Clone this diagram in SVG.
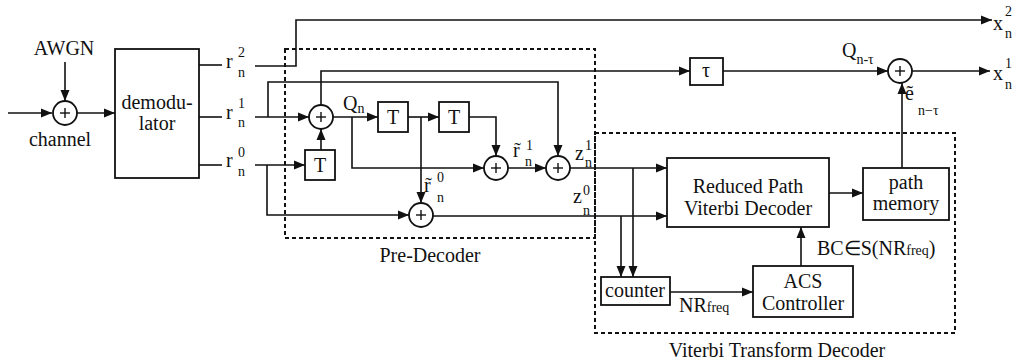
<svg xmlns="http://www.w3.org/2000/svg" width="1022" height="363" viewBox="0 0 1022 363">
<style>
text{font-family:"Liberation Serif","Times New Roman",serif;fill:#111;}
.t{font-size:20px;}
.s{font-size:14px;}
.m{text-anchor:middle;}
.box{fill:#fff;stroke:#111;stroke-width:1.8;}
.sum{fill:#fff;stroke:#111;stroke-width:1.8;}
.ln{fill:none;stroke:#111;stroke-width:1.6;}
.dash{fill:none;stroke:#111;stroke-width:2;stroke-dasharray:4 3;}
.plus{stroke:#111;stroke-width:1.4;}
</style>
<defs>
<marker id="ar" markerUnits="userSpaceOnUse" markerWidth="12" markerHeight="10" refX="11" refY="5" orient="auto">
<path d="M0,0.5 L11,5 L0,9.5 Z" fill="#111"/>
</marker>
<g id="plus"><line class="plus" x1="-5" y1="0" x2="5" y2="0"/><line class="plus" x1="0" y1="-5" x2="0" y2="5"/></g>
</defs>
<rect width="1022" height="363" fill="#fff"/>

<g id="boundaries">
<rect class="dash" x="285" y="49" width="310" height="189"/>
<path class="dash" d="M595,133 H955 V333 H595 Z"/>
<text class="t m" x="430" y="262">Pre-Decoder</text>
<text class="t m" x="777" y="357">Viterbi Transform Decoder</text>
</g>

<g id="connectors">
<line class="ln" x1="8" y1="113" x2="52" y2="113" marker-end="url(#ar)"/>
<line class="ln" x1="65" y1="62" x2="65" y2="101" marker-end="url(#ar)"/>
<line class="ln" x1="77" y1="113" x2="115" y2="113" marker-end="url(#ar)"/>
<line class="ln" x1="199" y1="65" x2="222" y2="65"/>
<line class="ln" x1="199" y1="117" x2="222" y2="117"/>
<line class="ln" x1="199" y1="165" x2="222" y2="165"/>
<path class="ln" d="M255,66 H296 V20 H992" marker-end="url(#ar)"/>
<line class="ln" x1="255" y1="117" x2="309" y2="117" marker-end="url(#ar)"/>
<path class="ln" d="M268,117 V82 H558 V156" marker-end="url(#ar)"/>
<line class="ln" x1="255" y1="165" x2="305" y2="165" marker-end="url(#ar)"/>
<path class="ln" d="M267,165 V215 H409" marker-end="url(#ar)"/>
<line class="ln" x1="321" y1="150" x2="321" y2="129" marker-end="url(#ar)"/>
<path class="ln" d="M321,105 V71 H690" marker-end="url(#ar)"/>
<line class="ln" x1="723" y1="71" x2="888" y2="71" marker-end="url(#ar)"/>
<line class="ln" x1="912" y1="71" x2="990" y2="71" marker-end="url(#ar)"/>
<line class="ln" x1="333" y1="117" x2="378" y2="117" marker-end="url(#ar)"/>
<path class="ln" d="M352,117 V168 H484" marker-end="url(#ar)"/>
<line class="ln" x1="408" y1="117" x2="439" y2="117" marker-end="url(#ar)"/>
<line class="ln" x1="421" y1="117" x2="421" y2="203" marker-end="url(#ar)"/>
<path class="ln" d="M468,117 H496 V156" marker-end="url(#ar)"/>
<line class="ln" x1="508" y1="168" x2="546" y2="168" marker-end="url(#ar)"/>
<line class="ln" x1="570" y1="168" x2="667" y2="168" marker-end="url(#ar)"/>
<line class="ln" x1="433" y1="216" x2="667" y2="216" marker-end="url(#ar)"/>
<line class="ln" x1="633" y1="168" x2="633" y2="277" marker-end="url(#ar)"/>
<line class="ln" x1="621" y1="216" x2="621" y2="277" marker-end="url(#ar)"/>
<line class="ln" x1="670" y1="292" x2="753" y2="292" marker-end="url(#ar)"/>
<line class="ln" x1="801" y1="266" x2="801" y2="227" marker-end="url(#ar)"/>
<line class="ln" x1="829" y1="193" x2="863" y2="193" marker-end="url(#ar)"/>
<line class="ln" x1="902" y1="168" x2="902" y2="83" marker-end="url(#ar)"/>
</g>

<g id="channel">
<circle class="sum" cx="65" cy="113" r="12"/><use href="#plus" x="65" y="113"/>
<text class="t m" x="64" y="55">AWGN</text>
<text class="t m" x="60" y="146">channel</text>
</g>

<g id="demodulator">
<rect class="box" x="115" y="49" width="84" height="129"/>
<text class="t m" x="157" y="109">demodu-</text>
<text class="t m" x="157" y="130">lator</text>
</g>

<g id="signal-labels">
<text class="t" x="226" y="68">r</text><text class="s" x="238" y="57">2</text><text class="s" x="238" y="77">n</text>
<text class="t" x="226" y="119">r</text><text class="s" x="238" y="108">1</text><text class="s" x="238" y="127">n</text>
<text class="t" x="226" y="167">r</text><text class="s" x="238" y="157">0</text><text class="s" x="238" y="176">n</text>
<text class="t" x="343" y="110">Q<tspan class="s" dy="3">n</tspan></text>
<text class="t" x="424" y="192">r&#771;</text><text class="s" x="437" y="182">0</text><text class="s" x="437" y="202">n</text>
<text class="t" x="513" y="157">r&#771;</text><text class="s" x="526" y="150">1</text><text class="s" x="525" y="166">n</text>
<text class="t" x="575" y="160">z</text><text class="s" x="585" y="150">1</text><text class="s" x="585" y="167">n</text>
<text class="t" x="573" y="203">z</text><text class="s" x="583" y="195">0</text><text class="s" x="583" y="215">n</text>
<text class="t" x="842" y="57">Q<tspan class="s" dy="7">n-&#964;</tspan></text>
<text class="t" x="905" y="100">&#7869;</text><text class="s" x="918" y="115">n&#8722;&#964;</text>
<text class="t" x="993" y="30">x</text><text class="s" x="1005" y="16">2</text><text class="s" x="1005" y="38">n</text>
<text class="t" x="993" y="80">x</text><text class="s" x="1005" y="68">1</text><text class="s" x="1005" y="89">n</text>
<text class="t" x="679" y="312">NR<tspan class="s">freq</tspan></text>
<text class="t" x="817" y="255">BC&#8712;S(NR<tspan class="s">freq</tspan>)</text>
</g>

<g id="pre-decoder">
<circle class="sum" cx="321" cy="117" r="12"/><use href="#plus" x="321" y="117"/>
<rect class="box" x="305" y="150" width="30" height="30"/><text class="t m" x="320" y="172">T</text>
<rect class="box" x="378" y="102" width="30" height="30"/><text class="t m" x="393" y="124">T</text>
<rect class="box" x="439" y="102" width="30" height="30"/><text class="t m" x="454" y="124">T</text>
<circle class="sum" cx="496" cy="168" r="12"/><use href="#plus" x="496" y="168"/>
<circle class="sum" cx="558" cy="168" r="12"/><use href="#plus" x="558" y="168"/>
<circle class="sum" cx="421" cy="215" r="12"/><use href="#plus" x="421" y="215"/>
</g>

<g id="delay-tau">
<rect class="box" x="690" y="58" width="33" height="27"/>
<text class="t m" x="706" y="77">&#964;</text>
</g>

<g id="output-sum">
<circle class="sum" cx="900" cy="71" r="12"/><use href="#plus" x="900" y="71"/>
</g>

<g id="viterbi-decoder">
<rect class="box" x="667" y="158" width="162" height="69"/>
<text class="t m" x="748" y="193">Reduced Path</text>
<text class="t m" x="748" y="215">Viterbi Decoder</text>
</g>

<g id="path-memory">
<rect class="box" x="863" y="168" width="86" height="52"/>
<text class="t m" x="906" y="189">path</text>
<text class="t m" x="906" y="210">memory</text>
</g>

<g id="counter">
<rect class="box" x="601" y="277" width="69" height="28"/>
<text class="t m" x="635" y="297">counter</text>
</g>

<g id="acs-controller">
<rect class="box" x="753" y="266" width="100" height="51"/>
<text class="t m" x="803" y="288">ACS</text>
<text class="t m" x="803" y="310">Controller</text>
</g>
</svg>
